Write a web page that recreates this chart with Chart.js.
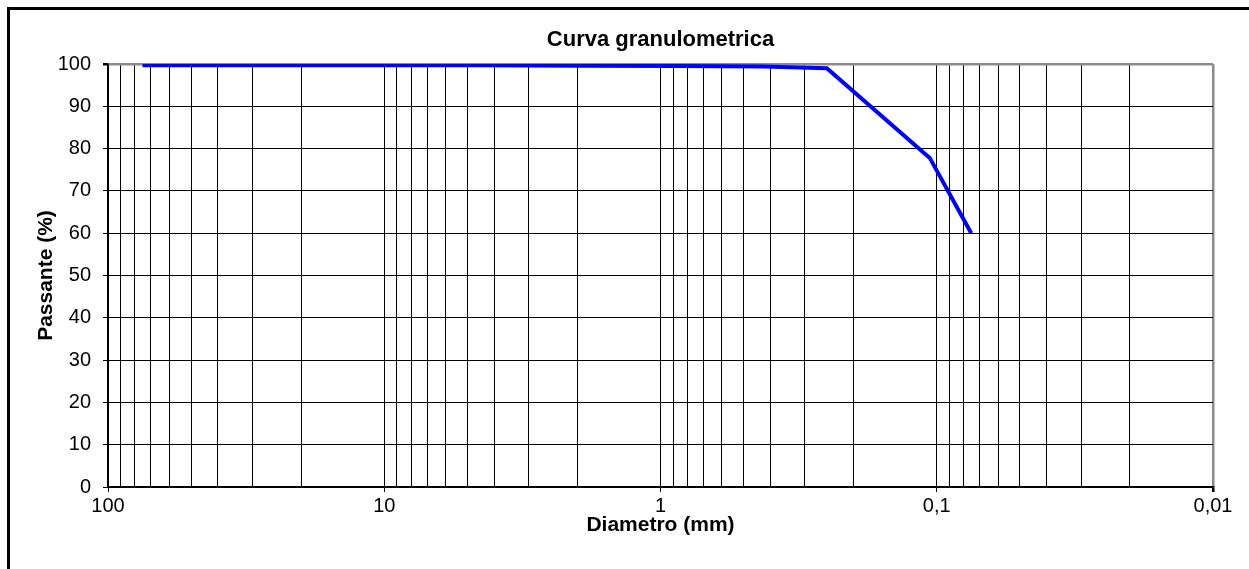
<!DOCTYPE html>
<html>
<head>
<meta charset="utf-8">
<script src="https://cdn.jsdelivr.net/npm/chart.js@4/dist/chart.umd.min.js"></script>
<style>
  body { margin: 0; background: #fff; }
  #wrap { width: 1249px; height: 569px; }
</style>
</head>
<body>
<div id="wrap"><canvas id="curve" width="1249" height="569"></canvas></div>
<script>
// sieve sizes (mm) and percent passing
const diametri = [75, 50, 37.5, 25, 19, 9.5, 4.75, 2, 0.85, 0.425, 0.25, 0.106, 0.075];
const passante = [99.7, 99.7, 99.7, 99.7, 99.7, 99.7, 99.7, 99.6, 99.5, 99.4, 99.0, 77.8, 60];

const decadi = [100, 10, 1, 0.1, 0.01];
const xTickLabels = ["100", "10", "1", "0,1", "0,01"];
const yTicks = [0, 10, 20, 30, 40, 50, 60, 70, 80, 90, 100];

const chartTitle = "Curva granulometrica";
const FONT = "'Liberation Sans', Arial, sans-serif";

function isDecade(v) {
    const l = Math.log10(v);
    return Math.abs(l - Math.round(l)) < 1e-9;
}

function decadeLabel(v) {
    for (let i = 0; i < decadi.length; i++) {
        if (Math.abs(Math.log10(v) - Math.log10(decadi[i])) < 1e-9) return xTickLabels[i];
    }
    return "";
}

// outer frame (only left and top edges show) + title centred over the plot
const framePlugin = {
    id: "frame",
    beforeDraw(chart) {
        const ctx = chart.ctx;
        ctx.save();
        ctx.fillStyle = "#fff";
        ctx.fillRect(0, 0, chart.width, chart.height);
        ctx.fillStyle = "#000";
        ctx.fillRect(7, 7, 3, chart.height - 7);
        ctx.fillRect(7, 7, chart.width - 7, 3);
        ctx.restore();
    },
    afterDraw(chart) {
        const ctx = chart.ctx;
        const a = chart.chartArea;
        ctx.save();
        ctx.fillStyle = "#000";
        ctx.font = "bold 22px " + FONT;
        ctx.textAlign = "center";
        ctx.textBaseline = "middle";
        ctx.fillText(chartTitle, (a.left + a.right) / 2, 40);
        ctx.restore();
    }
};

const ctx = document.getElementById("curve");

new Chart(ctx, {
    type: "line",
    data: {
        datasets: [
            {
                label: "Passante",
                data: diametri.map((d, i) => ({ x: d, y: passante[i] })),
                borderColor: "#0000ff",
                borderWidth: 4,
                pointRadius: 0,
                tension: 0,
                fill: false
            }
        ]
    },
    plugins: [framePlugin],
    options: {
        responsive: false,
        animation: false,
        devicePixelRatio: 1,
        layout: { padding: { left: 0, right: 36, top: 64, bottom: 0 } },
        plugins: {
            legend: { display: false },
            tooltip: { enabled: false },
            title: { display: false }
        },
        scales: {
            x: {
                type: "logarithmic",
                reverse: true,
                min: 0.01,
                max: 100,
                afterBuildTicks(scale) {
                    const vals = [];
                    for (let d = 0; d < decadi.length - 1; d++) {
                        const base = decadi[decadi.length - 1 - d];
                        for (let m = 1; m <= 9; m++) vals.push(base * m);
                    }
                    vals.push(decadi[0]);
                    scale.ticks = vals.map(v => ({ value: v }));
                },
                afterFit(scale) { scale.height = 82; },
                ticks: {
                    autoSkip: false,
                    maxRotation: 0,
                    padding: 2,
                    color: "#000",
                    font: { family: FONT, size: 20 },
                    callback: (v) => decadeLabel(v)
                },
                grid: {
                    color: (c) => (c.tick && Math.abs(c.tick.value - 0.01) < 1e-12) ? "#8c8c8c" : "#000",
                    lineWidth: (c) => (c.tick && Math.abs(c.tick.value - 0.01) < 1e-12) ? 2.5 : 1,
                    tickLength: 5,
                    tickColor: (c) => (c.tick && isDecade(c.tick.value)) ? "#000" : "rgba(0,0,0,0)"
                },
                border: { color: "#000", width: 1.5 },
                title: {
                    display: true,
                    text: "Diametro (mm)",
                    color: "#000",
                    font: { family: FONT, size: 21, weight: "bold" },
                    padding: { top: 0, bottom: 31 }
                }
            },
            y: {
                min: 0,
                max: 100,
                afterBuildTicks(scale) {
                    scale.ticks = yTicks.map(v => ({ value: v }));
                },
                afterFit(scale) { scale.width = 108; },
                ticks: {
                    padding: 12,
                    color: "#000",
                    font: { family: FONT, size: 20 }
                },
                grid: {
                    color: (c) => (c.tick && c.tick.value === 100) ? "#8c8c8c" : "#000",
                    lineWidth: (c) => (c.tick && c.tick.value === 100) ? 2.5 : 1,
                    tickLength: 5,
                    tickColor: "#000"
                },
                border: { color: "#000", width: 1.5 },
                title: {
                    display: true,
                    text: "Passante (%)",
                    color: "#000",
                    font: { family: FONT, size: 21, weight: "bold" },
                    padding: { top: 34, bottom: 0 }
                }
            }
        }
    }
});
</script>
</body>
</html>
